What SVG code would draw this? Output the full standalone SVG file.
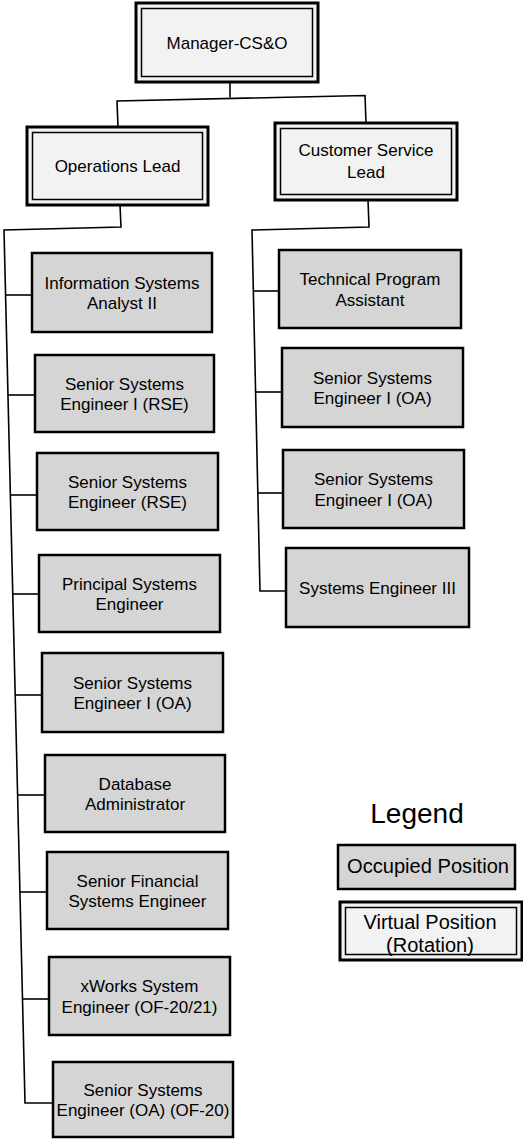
<svg xmlns="http://www.w3.org/2000/svg" width="523" height="1142" viewBox="0 0 523 1142">
  <style>
    text { font-family: "Liberation Sans", Arial, sans-serif; font-size: 17px; fill: #000; text-anchor: middle; }
    .occ { fill: #d5d5d5; stroke: #000; stroke-width: 2.5; }
    .virt-out { fill: #f2f2f2; stroke: #000; stroke-width: 3; }
    .virt-in { fill: none; stroke: #000; stroke-width: 1.5; }
    .conn { fill: none; stroke: #000; stroke-width: 1.6; stroke-linejoin: miter; }
    .legend-title { font-size: 28px; }
    .legend-item { font-size: 20px; }
  </style>
  <rect width="523" height="1142" fill="#fff"/>

  <!-- connectors -->
  <g id="connectors">
    <!-- manager to leads -->
    <polyline class="conn" points="230,82 230,97.5"/>
    <polyline class="conn" points="118,127 117,101 365,95.5 366,123"/>
    <!-- operations lead branch -->
    <polyline class="conn" points="120,205 121,227 4,230 25,1103 53,1103"/>
    <line class="conn" x1="5.6" y1="295" x2="32" y2="295"/>
    <line class="conn" x1="8" y1="395" x2="35" y2="395"/>
    <line class="conn" x1="10.4" y1="495" x2="37" y2="495"/>
    <line class="conn" x1="12.8" y1="594" x2="39" y2="594"/>
    <line class="conn" x1="15.2" y1="695" x2="42" y2="695"/>
    <line class="conn" x1="17.6" y1="795" x2="45" y2="795"/>
    <line class="conn" x1="19.9" y1="892" x2="47" y2="892"/>
    <line class="conn" x1="22.5" y1="999" x2="49" y2="999"/>
    <!-- customer service lead branch -->
    <polyline class="conn" points="368,200 369,227 252,230 260,591 286,591"/>
    <line class="conn" x1="253.4" y1="291" x2="279" y2="291"/>
    <line class="conn" x1="255.6" y1="392" x2="282" y2="392"/>
    <line class="conn" x1="257.8" y1="493" x2="283" y2="493"/>
  </g>

  <!-- top level -->
  <g id="manager">
    <rect class="virt-out" x="136" y="3" width="182" height="79"/>
    <rect class="virt-in" x="141.5" y="8.5" width="171" height="68"/>
    <text x="227" y="48.5">Manager-CS&amp;O</text>
  </g>
  <g id="operations-lead">
    <rect class="virt-out" x="27" y="127" width="181" height="78"/>
    <rect class="virt-in" x="32.5" y="132.5" width="170" height="67"/>
    <text x="117.5" y="172">Operations Lead</text>
  </g>
  <g id="customer-service-lead">
    <rect class="virt-out" x="275" y="123" width="182" height="77"/>
    <rect class="virt-in" x="280.5" y="128.5" width="171" height="66"/>
    <text x="366" y="156">Customer Service</text>
    <text x="366" y="178">Lead</text>
  </g>

  <!-- operations staff -->
  <g id="info-systems-analyst">
    <rect class="occ" x="32" y="253" width="180" height="79"/>
    <text x="122" y="288.5">Information Systems</text>
    <text x="122" y="309">Analyst II</text>
  </g>
  <g id="sse1-rse">
    <rect class="occ" x="35" y="355" width="179" height="77"/>
    <text x="124.5" y="389.5">Senior Systems</text>
    <text x="124.5" y="410">Engineer I (RSE)</text>
  </g>
  <g id="sse-rse">
    <rect class="occ" x="37" y="453" width="181" height="77"/>
    <text x="127.5" y="487.5">Senior Systems</text>
    <text x="127.5" y="508">Engineer (RSE)</text>
  </g>
  <g id="principal-se">
    <rect class="occ" x="39" y="555" width="181" height="77"/>
    <text x="129.5" y="589.5">Principal Systems</text>
    <text x="129.5" y="610">Engineer</text>
  </g>
  <g id="sse1-oa-ops">
    <rect class="occ" x="42" y="653" width="181" height="79"/>
    <text x="132.5" y="688.5">Senior Systems</text>
    <text x="132.5" y="709">Engineer I (OA)</text>
  </g>
  <g id="dba">
    <rect class="occ" x="45" y="755" width="180" height="77"/>
    <text x="135" y="789.5">Database</text>
    <text x="135" y="810">Administrator</text>
  </g>
  <g id="senior-financial-se">
    <rect class="occ" x="47" y="852" width="181" height="77"/>
    <text x="137.5" y="886.5">Senior Financial</text>
    <text x="137.5" y="907">Systems Engineer</text>
  </g>
  <g id="xworks-se">
    <rect class="occ" x="49" y="957" width="181" height="78"/>
    <text x="139.5" y="992">xWorks System</text>
    <text x="139.5" y="1012.5">Engineer (OF-20/21)</text>
  </g>
  <g id="sse-oa-of20">
    <rect class="occ" x="53" y="1062" width="180" height="75"/>
    <text x="143" y="1095.5">Senior Systems</text>
    <text x="143" y="1116">Engineer (OA) (OF-20)</text>
  </g>

  <!-- customer service staff -->
  <g id="tech-program-assistant">
    <rect class="occ" x="279" y="250" width="182" height="78"/>
    <text x="370" y="285">Technical Program</text>
    <text x="370" y="305.5">Assistant</text>
  </g>
  <g id="sse1-oa-cs-1">
    <rect class="occ" x="282" y="348" width="181" height="79"/>
    <text x="372.5" y="383.5">Senior Systems</text>
    <text x="372.5" y="404">Engineer I (OA)</text>
  </g>
  <g id="sse1-oa-cs-2">
    <rect class="occ" x="283" y="450" width="181" height="78"/>
    <text x="373.5" y="485">Senior Systems</text>
    <text x="373.5" y="505.5">Engineer I (OA)</text>
  </g>
  <g id="systems-engineer-3">
    <rect class="occ" x="286" y="548" width="183" height="79"/>
    <text x="377.5" y="593.5">Systems Engineer III</text>
  </g>

  <!-- legend -->
  <g id="legend">
    <text class="legend-title" x="417" y="823">Legend</text>
    <rect class="occ" x="338" y="845" width="177" height="44"/>
    <text class="legend-item" x="428" y="873" textLength="162" lengthAdjust="spacingAndGlyphs">Occupied Position</text>
    <rect class="virt-out" x="340" y="902" width="182" height="58"/>
    <rect class="virt-in" x="345.5" y="907.5" width="171" height="47"/>
    <text class="legend-item" x="430" y="929">Virtual Position</text>
    <text class="legend-item" x="430" y="952">(Rotation)</text>
  </g>
</svg>
